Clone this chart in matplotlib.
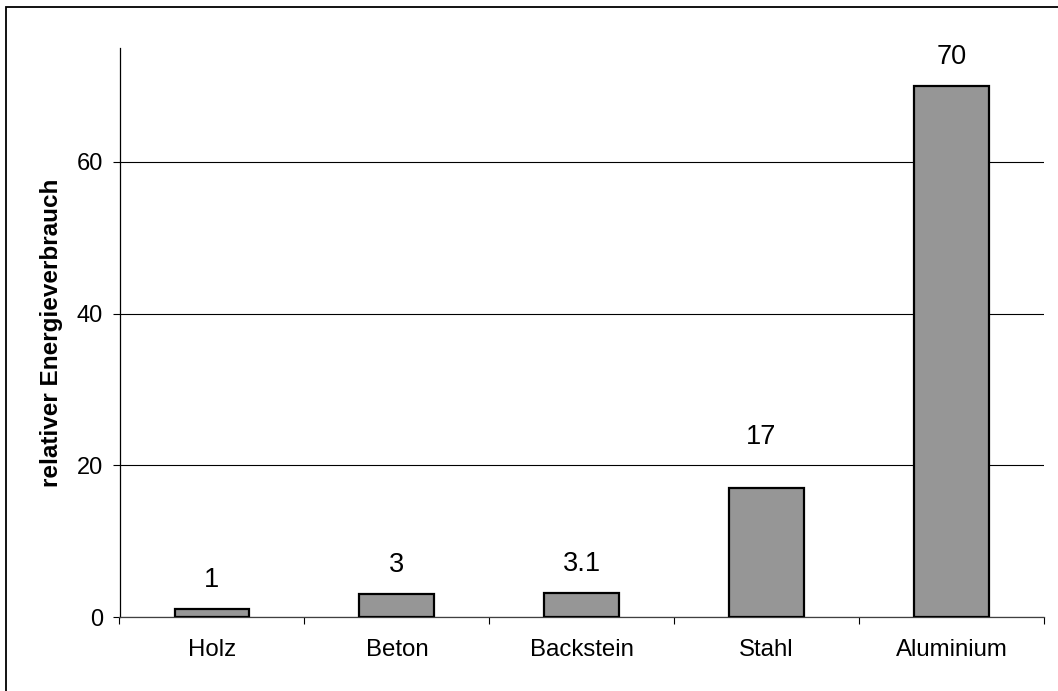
import matplotlib.pyplot as plt
from matplotlib.patches import Rectangle
import numpy as np

categories = ["Holz", "Beton", "Backstein", "Stahl", "Aluminium"]
values = [1, 3, 3.1, 17, 70]
value_labels = ["1", "3", "3.1", "17", "70"]
y_ticks = [0, 20, 40, 60]

# label offsets above the bar tops (points); the "17" label sits higher
label_offsets = [(0, 21), (0, 21), (0, 21), (-4, 37), (0, 21)]

plt.rcParams["font.family"] = ["Liberation Sans", "DejaVu Sans"]

W, H = 1058, 691
fig = plt.figure(figsize=(W / 100, H / 100), dpi=100)
ax = fig.add_axes([119.5 / W, 1 - 617 / H, (1044 - 119.5) / W, (617 - 48) / H])

x = np.arange(len(categories))
ax.bar(x, values, width=0.405, color="#969696", edgecolor="black",
       linewidth=1.6, zorder=3)

for xi, v, lab, off in zip(x, values, value_labels, label_offsets):
    ax.annotate(lab, (xi, v), xytext=off, textcoords="offset points",
                ha="center", va="center", fontsize=19.5)

ax.set_xlim(-0.5, len(categories) - 0.5)
ax.set_ylim(0, 75)

ax.set_yticks(y_ticks)
ax.yaxis.grid(True, color="black", linewidth=0.8, zorder=0)
ax.tick_params(axis="y", direction="out", length=5, width=0.8,
               labelsize=17, pad=7)

ax.set_xticks(x)
ax.set_xticklabels(categories)
ax.set_xticks(np.arange(-0.5, len(categories)), minor=True)
ax.tick_params(axis="x", which="major", length=0, labelsize=17.3, pad=16)
ax.tick_params(axis="x", which="minor", direction="out", length=5, width=0.8)

for side in ["top", "right"]:
    ax.spines[side].set_visible(False)
ax.spines["left"].set_linewidth(0.9)
ax.spines["bottom"].set_linewidth(0.9)
ax.spines["bottom"].set_color("#404040")

ax.set_ylabel("relativer Energieverbrauch", fontsize=17.5, fontweight="bold",
              labelpad=10)

fig.patches.append(Rectangle((6 / W, -0.1), 2, 1.1 - 7 / H, transform=fig.transFigure,
                             fill=False, edgecolor="black", linewidth=1.3))

plt.savefig("out.png", dpi=100)
plt.close()
